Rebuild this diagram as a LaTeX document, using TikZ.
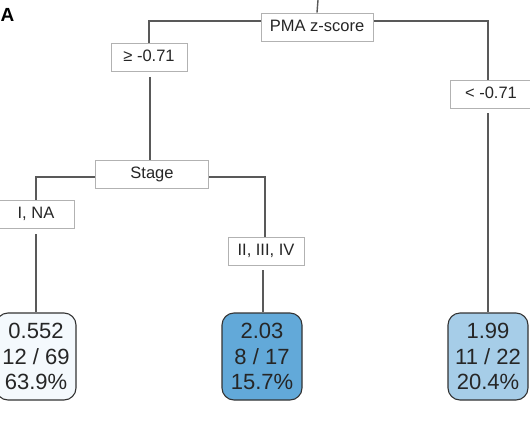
\documentclass[tikz,border=0pt]{standalone}
\usepackage{fontspec}
\setmainfont{Liberation Sans}
\usetikzlibrary{backgrounds,positioning}

\begin{document}
\begin{tikzpicture}[x=1pt,y=-1pt]
\tikzset{
  splitnode/.style={rectangle,draw=black!30,line width=0.8pt,fill=white,minimum height=28pt,inner sep=2pt,text height=11.5pt,text depth=3pt,font=\fontsize{16.5}{19}\selectfont,text=black!85},
  leafnode/.style={rectangle,rounded corners=12pt,draw=black!80,line width=1.1pt,minimum width=80pt,minimum height=87pt,align=center,inner sep=0pt,font=\fontsize{22}{25.5}\selectfont,text=black!85},
  treeedge/.style={draw=black!65,line width=1.4pt}
}
\definecolor{leaflow}{HTML}{F4F9FD}
\definecolor{leafhigh}{HTML}{62A9D9}
\definecolor{leafmid}{HTML}{A6CDE8}
\useasboundingbox (0,0) rectangle (530,442);
\node[font=\fontsize{19}{20}\selectfont\bfseries,anchor=west] (n_A) at (-3,15) {A};
\coordinate (c_root) at (318,0);
\node[splitnode,minimum width=112pt] (n_pma) at (317,27) {PMA z-score};
\coordinate (c_pma) at (317,21);
\node[splitnode,minimum width=76pt] (n_ge) at (149,57.5) {≥ -0.71};
\node[splitnode,minimum width=82pt] (n_lt) at (491,94) {< -0.71};
\node[splitnode,minimum width=113pt] (n_stage) at (152,174) {Stage};
\coordinate (c_stage) at (152,177);
\node[splitnode,minimum width=76pt] (n_ina) at (36,214) {I, NA};
\node[splitnode,minimum width=76pt] (n_iii) at (266,251) {II, III, IV};
\node[leafnode,fill=leaflow] (n_l1) at (36,356.5) {0.552\\12 / 69\\63.9\%};
\node[leafnode,fill=leafhigh] (n_l2) at (262,356.5) {2.03\\8 / 17\\15.7\%};
\node[leafnode,fill=leafmid] (n_l3) at (488,356.5) {1.99\\11 / 22\\20.4\%};
\begin{scope}[on background layer]
\draw[treeedge] (c_root) -- (n_pma.north);
\draw[treeedge] (n_ge.north -| 149,0) |- (c_pma) -| (n_lt.north -| 488,0);
\draw[treeedge,shorten <=5pt] (n_ge.south -| 150,0) -- (n_stage.north -| 150,0);
\draw[treeedge,shorten <=5pt] (n_lt.south -| 488,0) -- (n_l3.north);
\draw[treeedge] (n_ina.north) |- (c_stage) -| (n_iii.north -| 265,0);
\draw[treeedge,shorten <=6pt] (n_ina.south) -- (n_l1.north);
\draw[treeedge,shorten <=5pt] (n_iii.south -| 263,0) -- (n_l2.north -| 263,0);
\end{scope}
\end{tikzpicture}
\end{document}
